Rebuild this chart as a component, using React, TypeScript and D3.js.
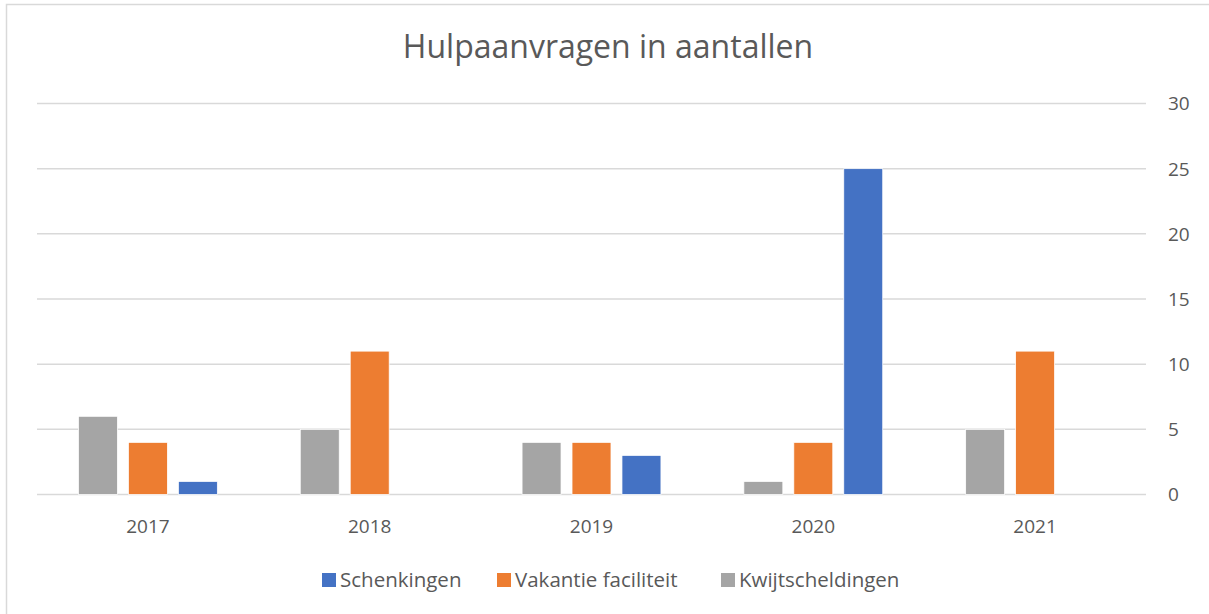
import React, { useEffect, useRef } from 'react'
import * as d3 from 'd3'

// chart data
const years = ['2017', '2018', '2019', '2020', '2021']
const schenkingen = [1, 0, 3, 25, 0]
const vakantieFaciliteit = [4, 11, 4, 4, 11]
const kwijtscheldingen = [6, 5, 4, 1, 5]
const yTicks = [0, 5, 10, 15, 20, 25, 30]
const seriesNames = ['Schenkingen', 'Vakantie faciliteit', 'Kwijtscheldingen']
const seriesColors = ['#4472C4', '#ED7D31', '#A5A5A5']

const FONT = "'Open Sans', 'Noto Sans', sans-serif"

export default function App() {
  const ref = useRef<SVGSVGElement>(null)

  useEffect(() => {
    document.body.style.margin = '0'
    const svg = d3.select(ref.current)
    svg.selectAll('*').remove()

    const width = 1209
    const height = 614
    var margin = { left: 37, right: 63, top: 103.5, bottom: 119.5 }
    var plotW = width - margin.left - margin.right
    var plotH = height - margin.top - margin.bottom

    // chart border (only top and left are inside the picture)
    svg.append('path')
      .attr('d', 'M6.5,' + height + 'V4.5H' + width)
      .attr('fill', 'none')
      .attr('stroke', '#D9D9D9')
      .attr('stroke-width', 1.5)

    // title
    svg.append('text')
      .attr('x', 608).attr('y', 58)
      .attr('text-anchor', 'middle')
      .attr('font-family', FONT)
      .attr('font-size', 32)
      .attr('fill', '#595959')
      .text('Hulpaanvragen in aantallen')

    var g = svg.append('g')
      .attr('transform', 'translate(' + margin.left + ',' + margin.top + ')')

    var x0 = d3.scaleBand().domain(years).range([0, plotW]).padding(0)
    // bars are drawn gray, orange, blue left to right
    var barOrder = ['Kwijtscheldingen', 'Vakantie faciliteit', 'Schenkingen']
    var x1 = d3.scaleBand().domain(barOrder).range([0, x0.bandwidth()])
      .paddingInner(0.22).paddingOuter(0.83)
    var y = d3.scaleLinear().domain([0, 30]).range([plotH, 0])

    // gridlines
    g.selectAll('.grid').data(yTicks).enter().append('line')
      .attr('x1', 0).attr('x2', plotW)
      .attr('y1', d => y(d)).attr('y2', d => y(d))
      .attr('stroke', '#D9D9D9')
      .attr('stroke-width', 1.5)

    // right axis labels
    g.selectAll('.ytick').data(yTicks).enter().append('text')
      .attr('x', plotW + 22)
      .attr('y', d => y(d))
      .attr('dy', '0.36em')
      .attr('font-family', FONT)
      .attr('font-size', 19)
      .attr('fill', '#595959')
      .text(d => d)

    var valuesByName: Record<string, number[]> = {
      'Schenkingen': schenkingen,
      'Vakantie faciliteit': vakantieFaciliteit,
      'Kwijtscheldingen': kwijtscheldingen,
    }

    barOrder.forEach(name => {
      var color = seriesColors[seriesNames.indexOf(name)]
      var vals = valuesByName[name]
      g.selectAll('.bar-' + name.replace(' ', '')).data(years).enter()
        .filter((d, i) => vals[i] > 0)
        .append('rect')
        .attr('x', d => (x0(d) as number) + (x1(name) as number))
        .attr('y', (d) => y(vals[years.indexOf(d)]))
        .attr('width', x1.bandwidth())
        .attr('height', d => plotH - y(vals[years.indexOf(d)]))
        .attr('fill', color)
        .attr('stroke', '#fff')
        .attr('stroke-width', 0.75)
    })

    // category labels
    g.selectAll('.xlab').data(years).enter().append('text')
      .attr('x', d => (x0(d) as number) + x0.bandwidth() / 2)
      .attr('y', plotH + 38.5)
      .attr('text-anchor', 'middle')
      .attr('font-family', FONT)
      .attr('font-size', 19)
      .attr('fill', '#595959')
      .text(d => d)

    // legend
    var legendX = [322, 497, 721]
    seriesNames.forEach((name, i) => {
      svg.append('rect')
        .attr('x', legendX[i]).attr('y', 573)
        .attr('width', 14).attr('height', 14)
        .attr('fill', seriesColors[i])
      svg.append('text')
        .attr('x', legendX[i] + 18).attr('y', 587)
        .attr('font-family', FONT)
        .attr('font-size', 20.5)
        .attr('fill', '#595959')
        .text(name)
    })
  }, [])

  return <svg ref={ref} width={1209} height={614} style={{ display: 'block' }}></svg>
}
